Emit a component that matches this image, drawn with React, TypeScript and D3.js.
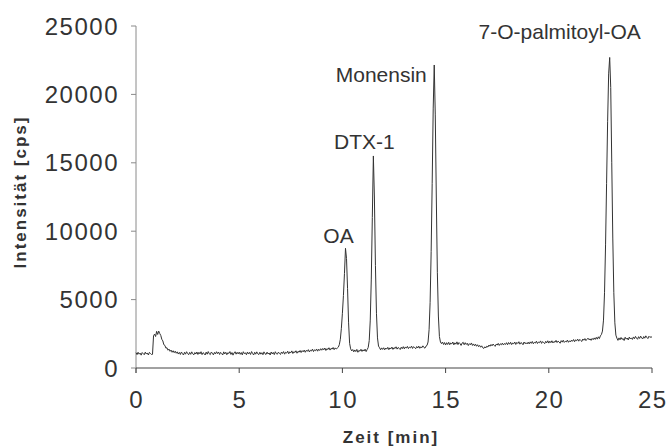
import React from "react";
import * as d3 from "d3";

const timeStep = 0.05;
const intensity: number[] = [
  // 0.00 - 0.95
  1120, 980, 1150, 1010, 1090, 940, 1130, 1050, 970, 1160, 1020, 1100, 950, 1140, 1060, 990, 1000, 2350, 2480, 2300,
  // 1.00 - 1.95
  2680, 2450, 2700, 2520, 2380, 2100, 1980, 1700, 1650, 1450, 1480, 1300, 1380, 1220, 1310, 1150, 1260, 1120, 1230, 1080,
  // 2.00 - 2.95
  1180, 1020, 1140, 990, 1170, 1050, 950, 1150, 1010, 1190, 1060, 970, 1140, 1000, 1180, 1040, 960, 1130, 1020, 1170,
  // 3.00 - 3.95
  990, 1150, 1030, 1190, 980, 1120, 1060, 950, 1160, 1010, 1200, 1040, 980, 1170, 1080, 960, 1140, 1020, 1190, 1050,
  // 4.00 - 4.95
  1170, 990, 1140, 1060, 950, 1180, 1030, 1150, 970, 1120, 1060, 1200, 990, 1130, 940, 1100, 1190, 1010, 1150, 1030,
  // 5.00 - 5.95
  1160, 1000, 1130, 960, 1190, 1050, 1110, 970, 1170, 1020, 1140, 990, 1200, 1060, 950, 1150, 1010, 1180, 1040, 980,
  // 6.00 - 6.95
  1150, 1010, 1120, 970, 1180, 1040, 990, 1160, 1020, 1100, 950, 1170, 1030, 1140, 980, 1190, 1050, 1010, 1160, 1070,
  // 7.00 - 7.95
  990, 1170, 1060, 1200, 1010, 1150, 1090, 1230, 1040, 1180, 1110, 1250, 1060, 1200, 1130, 1260, 1080, 1220, 1150, 1280,
  // 8.00 - 8.95
  1130, 1270, 1180, 1310, 1150, 1290, 1220, 1340, 1170, 1300, 1240, 1380, 1200, 1330, 1260, 1390, 1230, 1370, 1280, 1410,
  // 9.00 - 9.95
  1300, 1430, 1330, 1460, 1280, 1420, 1350, 1480, 1310, 1440, 1380, 1500, 1340, 1470, 1390, 1450, 1520, 1700, 2100, 2900,
  // 10.00 - 10.95 (OA)
  4000, 5300, 6900, 8750, 8000, 5800, 3300, 1800, 1400, 1250, 1350, 1180, 1320, 1200, 1360, 1150, 1290, 1230, 1370, 1210,
  // 11.00 - 11.95 (DTX-1)
  1330, 1240, 1380, 1200, 1350, 1500, 2000, 3500, 6500, 11000, 15500, 12500, 7500, 4000, 2200, 1600, 1480, 1330, 1470, 1360,
  // 12.00 - 12.95
  1480, 1330, 1460, 1380, 1510, 1340, 1470, 1400, 1530, 1360, 1490, 1420, 1550, 1380, 1500, 1440, 1350, 1520, 1410, 1560,
  // 13.00 - 13.95
  1400, 1540, 1450, 1580, 1420, 1530, 1470, 1600, 1430, 1560, 1490, 1410, 1570, 1460, 1600, 1440, 1550, 1480, 1620, 1500,
  // 14.00 - 14.95 (Monensin)
  1450, 1600, 1650, 1900, 2800, 4800, 8500, 13500, 19000, 22150, 18500, 12500, 7000, 3800, 2300, 1900, 1780, 1900, 1720, 1860,
  // 15.00 - 15.95
  1680, 1850, 1720, 1880, 1700, 1830, 1760, 1900, 1690, 1840, 1740, 1910, 1710, 1860, 1780, 1650, 1820, 1880, 1700, 1850,
  // 16.00 - 16.95
  1720, 1810, 1640, 1780, 1700, 1830, 1650, 1760, 1620, 1740, 1590, 1700, 1560, 1650, 1520, 1620, 1480, 1430, 1550, 1470,
  // 17.00 - 17.95
  1600, 1530, 1680, 1590, 1720, 1620, 1750, 1660, 1580, 1740, 1680, 1800, 1650, 1770, 1700, 1820, 1680, 1790, 1720, 1850,
  // 18.00 - 18.95
  1700, 1860, 1740, 1880, 1710, 1830, 1770, 1900, 1720, 1870, 1790, 1920, 1740, 1860, 1810, 1700, 1900, 1780, 1850, 1760,
  // 19.00 - 19.95
  1890, 1760, 1910, 1800, 1940, 1770, 1880, 1820, 1960, 1790, 1900, 1850, 1980, 1800, 1930, 1860, 1780, 1950, 1840, 1990,
  // 20.00 - 20.95
  1820, 1960, 1850, 1990, 1830, 1940, 1880, 2020, 1860, 1970, 1900, 1810, 2000, 1890, 2030, 1870, 1950, 1910, 2040, 1880,
  // 21.00 - 21.95
  1990, 1900, 2040, 1950, 2080, 1920, 2060, 1990, 2110, 1960, 2090, 2010, 1940, 2120, 2030, 2150, 2000, 2100, 2180, 2060,
  // 22.00 - 22.95 (7-O-palmitoyl-OA)
  2130, 2020, 2160, 2070, 2200, 2090, 2240, 2110, 2280, 2150, 2350, 2450, 2700, 3500, 5500, 9000, 13500, 18000, 21500, 22700,
  // 23.00 - 23.95
  20500, 15000, 9500, 5500, 3300, 2400, 2180, 2020, 2200, 2060, 2230, 2090, 2160, 2010, 2250, 2110, 2190, 2050, 2260, 2120,
  // 24.00 - 24.95
  2200, 2090, 2270, 2140, 2310, 2180, 2100, 2290, 2160, 2330, 2200, 2120, 2300, 2180, 2350, 2230, 2150, 2320, 2240, 2280,
  // 25.00
  2250,
];

const xTicks = [0, 5, 10, 15, 20, 25];
const yTicks = [0, 5000, 10000, 15000, 20000, 25000];

const peakNames = ["OA", "DTX-1", "Monensin", "7-O-palmitoyl-OA"];
const peakTimes = [10.15, 11.5, 14.45, 22.95];

const xTitle = "Zeit [min]";
const yTitle = "Intensität [cps]";

// layout
const W = 667;
const H = 447;
const M = { left: 136, right: 15, top: 26, bottom: 79 };
const labelOffsets: { dx: number; dy: number }[] = [
  { dx: -7, dy: -5 },
  { dx: -9, dy: -7 },
  { dx: -53, dy: 17 },
  { dx: -50, dy: -18 },
];

const FONT = "'Liberation Sans', Arial, sans-serif";
const TEXT = "#333";

export default function App() {
  const x = d3.scaleLinear().domain([0, 25]).range([M.left, W - M.right]);
  const y = d3.scaleLinear().domain([0, 25000]).range([H - M.bottom, M.top]);
  const points: [number, number][] = intensity.map((v, i) => [i * timeStep, v]);
  const line = d3
    .line<[number, number]>()
    .x((d) => x(d[0]))
    .y((d) => y(d[1]));

  const y0 = y(0);
  return (
    <svg
      width={W}
      height={H}
      style={{ position: "absolute", left: 0, top: 0, background: "#fff" }}
      fontFamily={FONT}
    >
      <rect width={W} height={H} fill="#fff" />
      {/* y axis */}
      <line x1={x(0)} x2={x(0)} y1={y(25000)} y2={y0 + 5} stroke="#8a8a8a" strokeWidth={1} />
      {yTicks.map((t) => (
        <g key={"y" + t}>
          <line x1={x(0) - 5} x2={x(0)} y1={y(t)} y2={y(t)} stroke="#8a8a8a" />
          <text
            x={x(0) - 17}
            y={y(t)}
            dy="0.36em"
            textAnchor="end"
            fontSize={24}
            letterSpacing={1.5}
            fill={TEXT}
          >
            {t}
          </text>
        </g>
      ))}
      {/* x axis */}
      <line x1={x(0)} x2={x(25)} y1={y0} y2={y0} stroke="#444" strokeWidth={1} />
      {xTicks.map((t) => (
        <g key={"x" + t}>
          <line x1={x(t)} x2={x(t)} y1={y0} y2={y0 + 5} stroke="#444" />
          <text
            x={x(t) + 0.75}
            y={y0 + 40}
            textAnchor="middle"
            fontSize={24}
            letterSpacing={1.5}
            fill={TEXT}
          >
            {t}
          </text>
        </g>
      ))}
      {/* axis titles */}
      <text
        x={(x(0) + x(25)) / 2 - 3}
        y={443}
        textAnchor="middle"
        fontSize={17}
        fontWeight="bold"
        letterSpacing={2}
        fill={TEXT}
      >
        {xTitle}
      </text>
      <text
        transform={`translate(26,192) rotate(-90)`}
        textAnchor="middle"
        fontSize={17}
        fontWeight="bold"
        letterSpacing={2}
        fill={TEXT}
      >
        {yTitle}
      </text>
      {/* trace */}
      <path d={line(points) || ""} fill="none" stroke="#333" strokeWidth={1} />
      {/* peak labels */}
      {peakNames.map((n, i) => {
        const t = peakTimes[i];
        const idx = Math.round(t / timeStep);
        const v = intensity[idx];
        return (
          <text
            key={n}
            x={x(t) + labelOffsets[i].dx}
            y={y(v) + labelOffsets[i].dy}
            textAnchor="middle"
            fontSize={21}
            fill={TEXT}
          >
            {n}
          </text>
        );
      })}
    </svg>
  );
}
